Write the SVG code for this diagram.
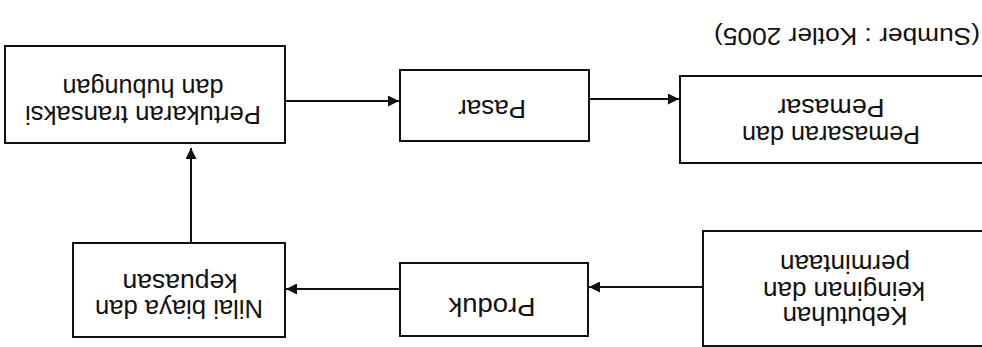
<svg xmlns="http://www.w3.org/2000/svg" width="982" height="347" viewBox="0 0 982 347">
<defs>
<style>
.box{fill:#fff;stroke:#111;stroke-width:2}
.t{font-family:"Liberation Sans",Arial,sans-serif;font-size:25px;fill:#111;text-anchor:middle}
.s{font-size:24px}
.c{stroke:#111;stroke-width:2;fill:none}
</style>
<marker id="ah" viewBox="0 0 10 10" refX="10" refY="5" markerWidth="12" markerHeight="11" markerUnits="userSpaceOnUse" orient="auto">
<path d="M0,0 L10,5 L0,10 z" fill="#111"/>
</marker>
</defs>
<rect width="982" height="347" fill="#fff"/>
<g id="source">
<text class="t s" x="847" y="28" transform="rotate(180 847 28)" textLength="266" lengthAdjust="spacingAndGlyphs">(Sumber : Kotler 2005)</text>
</g>
<g id="connectors">
<line class="c" x1="285" y1="101" x2="399" y2="101" marker-end="url(#ah)"/>
<line class="c" x1="589" y1="99" x2="679" y2="99" marker-end="url(#ah)"/>
<line class="c" x1="703" y1="287" x2="589" y2="287" marker-end="url(#ah)"/>
<line class="c" x1="400" y1="289" x2="286" y2="289" marker-end="url(#ah)"/>
<line class="c" x1="191" y1="243" x2="191" y2="148" marker-end="url(#ah)"/>
</g>
<g id="pertukaran">
<rect class="box" x="5" y="46" width="280" height="97"/>
<text class="t" x="143" y="106" transform="rotate(180 143 106)" textLength="236" lengthAdjust="spacingAndGlyphs">Pertukaran transaksi</text>
<text class="t" x="143" y="79" transform="rotate(180 143 79)" textLength="161" lengthAdjust="spacingAndGlyphs">dan hubungan</text>
</g>
<g id="pasar">
<rect class="box" x="400" y="70" width="189" height="71"/>
<text class="t" x="492" y="100" transform="rotate(180 492 100)" textLength="68" lengthAdjust="spacingAndGlyphs">Pasar</text>
</g>
<g id="pemasaran">
<rect class="box" x="680" y="76" width="310" height="87"/>
<text class="t" x="831" y="126" transform="rotate(180 831 126)" textLength="178" lengthAdjust="spacingAndGlyphs">Pemasaran dan</text>
<text class="t" x="831" y="99" transform="rotate(180 831 99)" textLength="107" lengthAdjust="spacingAndGlyphs">Pemasar</text>
</g>
<g id="nilai">
<rect class="box" x="73" y="243" width="212" height="94"/>
<text class="t" x="179" y="300" transform="rotate(180 179 300)" textLength="168" lengthAdjust="spacingAndGlyphs">Nilai biaya dan</text>
<text class="t" x="180" y="274" transform="rotate(180 180 274)" textLength="115" lengthAdjust="spacingAndGlyphs">kepuasan</text>
</g>
<g id="produk">
<rect class="box" x="400" y="263" width="188" height="73"/>
<text class="t" x="492" y="298" transform="rotate(180 492 298)" textLength="87" lengthAdjust="spacingAndGlyphs">Produk</text>
</g>
<g id="kebutuhan">
<rect class="box" x="703" y="231" width="290" height="115"/>
<text class="t" x="845" y="307" transform="rotate(180 845 307)" textLength="125" lengthAdjust="spacingAndGlyphs">Kebutuhan</text>
<text class="t" x="844" y="282" transform="rotate(180 844 282)" textLength="162" lengthAdjust="spacingAndGlyphs">keinginan dan</text>
<text class="t" x="845" y="255" transform="rotate(180 845 255)" textLength="130" lengthAdjust="spacingAndGlyphs">permintaan</text>
</g>
</svg>
